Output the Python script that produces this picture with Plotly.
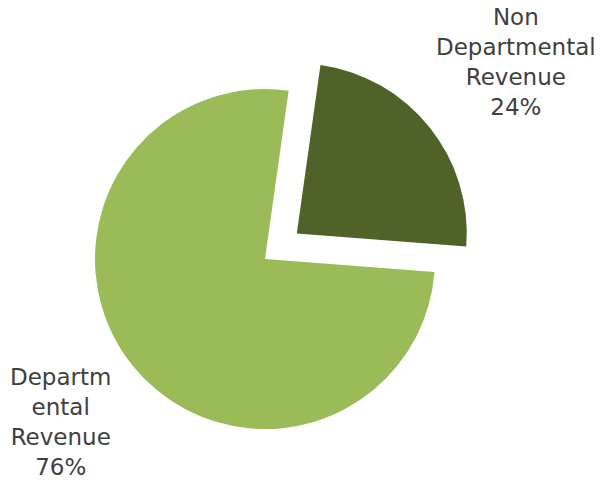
import plotly.graph_objects as go

categories = ["Non Departmental Revenue", "Departmental Revenue"]
label_lines = [["Non", "Departmental", "Revenue"], ["Departm", "ental", "Revenue"]]
values = [24, 76]
colors = ["#4F6228", "#9BBB59"]
pulls = [0.24, 0]

W, H = 601, 482
total = sum(values)

# pie centre (265, 259) px, radius 170 px
cx, cy, r = 265, 259, 170
half = r * (1 + max(pulls))

fig = go.Figure(go.Pie(
    labels=categories,
    values=values,
    sort=False,
    direction="clockwise",
    rotation=8,
    pull=pulls,
    marker=dict(colors=colors, line=dict(width=0)),
    textinfo="none",
    hoverinfo="label+percent",
    showlegend=False,
    domain=dict(x=[(cx - half) / W, (cx + half) / W],
                y=[1 - (cy + half) / H, 1 - (cy - half) / H]),
))

label_pos = [(516, 62), (60, 422)]
for lines, v, (px, py) in zip(label_lines, values, label_pos):
    text = "<br>".join(lines + [f"{round(100 * v / total)}%"])
    fig.add_annotation(
        x=px / W, y=1 - py / H, xref="paper", yref="paper",
        text=text, showarrow=False, align="center",
        xanchor="center", yanchor="middle",
        font=dict(family="DejaVu Sans", size=23, color="#404040"),
    )

fig.update_layout(
    width=W, height=H,
    margin=dict(l=0, r=0, t=0, b=0),
    paper_bgcolor="white", plot_bgcolor="white",
)

fig.write_html("out.html", config={"displayModeBar": False},
               post_script="document.body.style.margin='0px';")
